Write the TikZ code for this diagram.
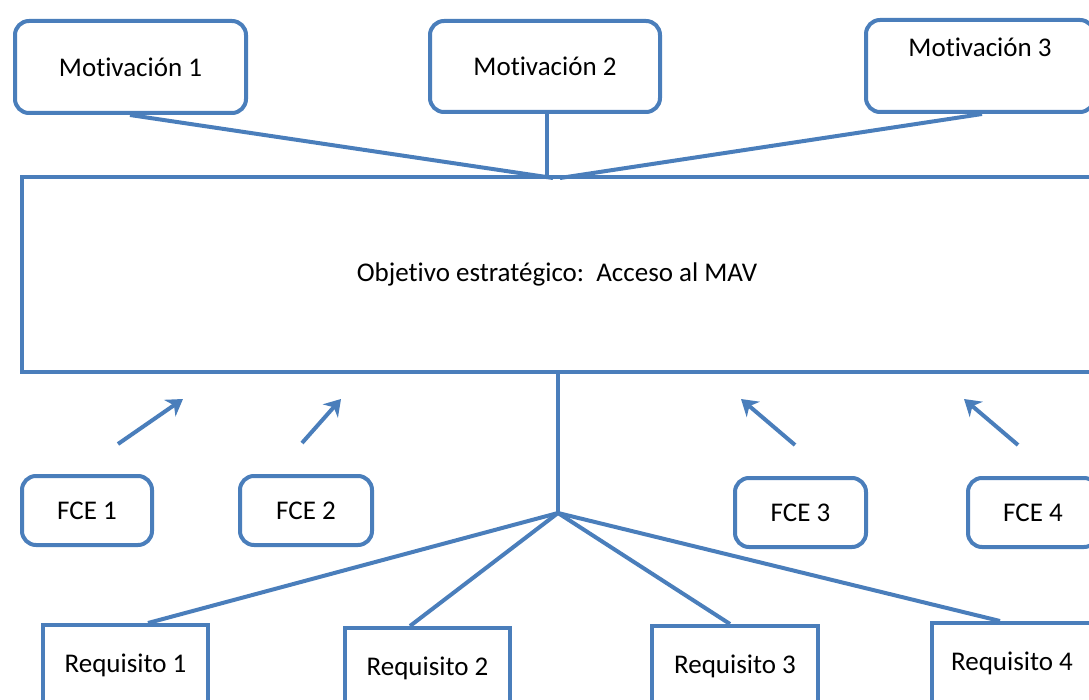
\documentclass[tikz,border=0pt]{standalone}
\usepackage{fontspec}
\setmainfont{Carlito}[Ligatures={NoCommon}]
\usetikzlibrary{arrows.meta}
\definecolor{edge}{HTML}{4A7EBB}
\tikzset{
  every node/.style={font=\fontsize{27}{32}\selectfont, text=black},
  rbox/.style={draw=edge, line width=4pt, rounded corners=14pt, fill=white, inner sep=0pt},
  sbox/.style={draw=edge, line width=4pt, fill=white, inner sep=0pt},
  link/.style={draw=edge, line width=4pt},
  push/.style={draw=edge, line width=4pt, -{Stealth[length=16pt,width=20pt,inset=5pt]}}
}
\begin{document}
\begin{tikzpicture}[x=1pt,y=-1pt]
\useasboundingbox (0,0) rectangle (1089,700);
\clip (0,0) rectangle (1089,700);

% motivations
\node[rbox, minimum width=231pt, minimum height=92pt] (m1) at (130.5,67) {Motivación 1};
\node[rbox, minimum width=230pt, minimum height=91pt] (m2) at (545,66.5) {Motivación 2};
\node[rbox, minimum width=228pt, minimum height=92pt] (m3) at (980,66) {};
\node at (980,47) {Motivación 3};

% strategic objective
\node[sbox, minimum width=1070pt, minimum height=195pt] (obj) at (557,274.5) {Objetivo estratégico:\ \ Acceso al MAV};

\coordinate (t1) at (553,178);
\coordinate (t2) at (547,178);
\coordinate (t3) at (560,178);
\draw[link] (m1.south -| 130,0) -- (t1);
\draw[link] (m2.south -| 547,0) -- (t2);
\draw[link] (m3.south -| 982,0) -- (t3);

% critical success factors
\node[rbox, minimum width=130pt, minimum height=69pt] (f1) at (87,510.5) {FCE 1};
\node[rbox, minimum width=132pt, minimum height=69pt] (f2) at (306,510.5) {FCE 2};
\node[rbox, minimum width=131pt, minimum height=69pt] (f3) at (800.5,512.5) {FCE 3};
\node[rbox, minimum width=130pt, minimum height=69pt] (f4) at (1033,512.5) {FCE 4};

\coordinate (a1s) at (118,444); \coordinate (a1e) at (183,399);
\coordinate (a2s) at (302,443); \coordinate (a2e) at (341,399);
\coordinate (a3s) at (795,445); \coordinate (a3e) at (741,399);
\coordinate (a4s) at (1018,445); \coordinate (a4e) at (964,399);
\draw[push] (a1s) -- (a1e);
\draw[push] (a2s) -- (a2e);
\draw[push] (a3s) -- (a3e);
\draw[push] (a4s) -- (a4e);

% requirements
\node[sbox, minimum width=165pt, minimum height=80pt] (r1) at (125.5,665) {Requisito 1};
\node[sbox, minimum width=165pt, minimum height=80pt] (r2) at (427.5,668) {Requisito 2};
\node[sbox, minimum width=166pt, minimum height=80pt] (r3) at (735,666) {Requisito 3};
\node[sbox, minimum width=160pt, minimum height=80pt] (r4) at (1012,663) {Requisito 4};

\coordinate (hub) at (558,513);
\draw[link] (obj.south -| hub) -- (hub);
\draw[link] (hub) -- (r1.north -| 148,0);
\draw[link] (hub) -- (r2.north -| 410,0);
\draw[link] (hub) -- (r3.north -| 730,0);
\draw[link] (hub) -- (r4.north -| 1000,0);
\end{tikzpicture}
\end{document}
